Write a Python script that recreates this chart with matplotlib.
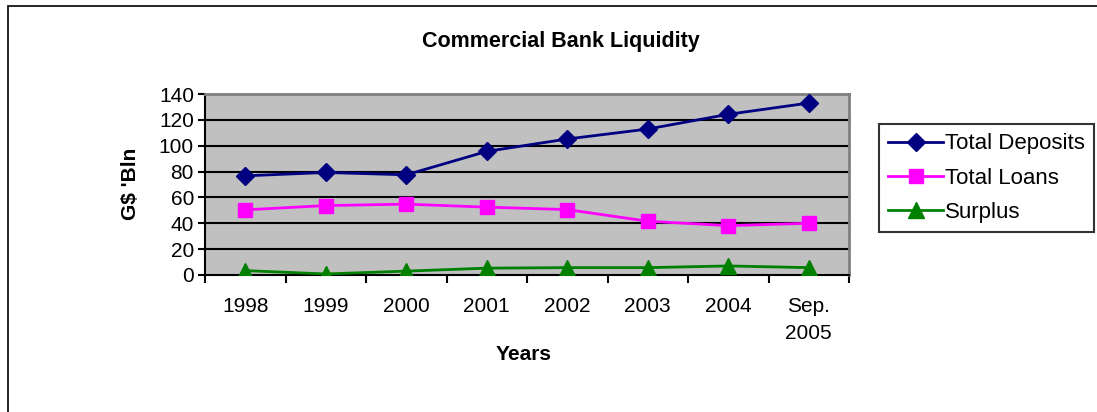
import matplotlib.pyplot as plt
from matplotlib.patches import Rectangle
from matplotlib.ticker import FixedLocator, NullFormatter

plt.rcParams['font.family'] = ['Liberation Sans', 'DejaVu Sans']

years = ["1998", "1999", "2000", "2001", "2002", "2003", "2004", "Sep.\n2005"]
deposits = [76.7, 79.3, 77.5, 95.6, 105.2, 112.9, 124.3, 133.0]
loans = [50.4, 53.7, 54.8, 52.5, 50.6, 41.6, 38.2, 40.0]
surplus = [3.4, 0.8, 3.0, 5.3, 5.7, 5.7, 7.0, 5.7]

W, H = 1097, 412
FS = 15
fig = plt.figure(figsize=(W / 100, H / 100), dpi=100)

# outer chart border (only top and left fall inside the canvas)
fig.patches.append(Rectangle((8 / W, -0.1), 1.2, 1 - 6 / H + 0.1,
                             transform=fig.transFigure, fill=False,
                             edgecolor='black', linewidth=1.2))

ax = fig.add_axes([205 / W, 1 - 275 / H, (849 - 205) / W, (275 - 94) / H])
ax.set_facecolor('#C0C0C0')

x = list(range(len(years)))
ax.plot(x, deposits, color='#000080', marker='D', markersize=9.5, linewidth=2,
        label='Total Deposits', zorder=3)
ax.plot(x, loans, color='#FF00FF', marker='s', markersize=10, linewidth=2,
        label='Total Loans', zorder=3)
ax.plot(x, surplus, color='#008000', marker='^', markersize=11, linewidth=2,
        label='Surplus', zorder=3)

ax.set_ylim(0, 140)
ax.set_yticks(range(0, 141, 20))
ax.set_xlim(-0.5, len(years) - 0.5)
ax.set_xticks(x)
ax.set_xticklabels(years, linespacing=1.55)
ax.xaxis.set_minor_locator(FixedLocator([i - 0.5 for i in range(len(years) + 1)]))
ax.xaxis.set_minor_formatter(NullFormatter())
ax.tick_params(axis='x', which='major', length=0, pad=16, labelsize=FS)
ax.tick_params(axis='x', which='minor', length=6, width=1.5, direction='out')
ax.tick_params(axis='y', length=5, width=1.5, direction='out', pad=3, labelsize=FS)
for v in range(20, 140, 20):
    ax.axhline(v, color='black', linewidth=1.5, zorder=1)

ax.spines['left'].set_linewidth(1.5)
ax.spines['bottom'].set_linewidth(1.5)
ax.spines['top'].set_color('#808080')
ax.spines['right'].set_color('#808080')
ax.spines['top'].set_linewidth(2)
ax.spines['right'].set_linewidth(2)

fig.text(561 / W, 1 - 41 / H, "Commercial Bank Liquidity", ha='center', va='center',
         fontsize=15.5, fontweight='bold')
fig.text(131 / W, 1 - 184 / H, "G$ 'Bln", ha='center', va='center', rotation=90,
         fontsize=15, fontweight='bold')
fig.text(524 / W, 1 - 355 / H, "Years", ha='center', va='center',
         fontsize=15, fontweight='bold')

leg = fig.legend(loc='upper left', bbox_to_anchor=(879 / W, 1 - 124 / H),
                 frameon=True, fancybox=False, fontsize=16, handlelength=2.45,
                 handletextpad=0.1, borderpad=0.42, labelspacing=0.6,
                 borderaxespad=0)
leg.get_frame().set_edgecolor('black')
leg.get_frame().set_linewidth(1.5)

fig.savefig('out.png', dpi=100)
